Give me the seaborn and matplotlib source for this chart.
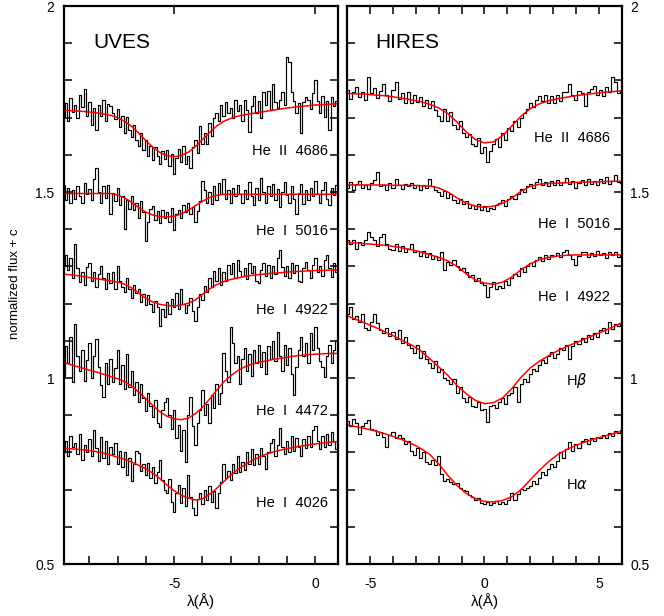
import numpy as np
import matplotlib
matplotlib.use("Agg")
import matplotlib.pyplot as plt
from matplotlib.ticker import MultipleLocator, FuncFormatter
import seaborn as sns

# wavelength grids, offsets from line centre in Angstrom
uves_start, uves_step, uves_model_step = -9.0, 1 / 12, 0.25
hires_start, hires_step, hires_model_step = -6.0, 0.4 / 3, 0.4

# ---------------- UVES (left panel) ----------------
uves_heii_4686_flux = [
    1.745, 1.702, 1.738, 1.690, 1.752, 1.715, 1.733, 1.698, 1.760, 1.728, 1.778, 1.705,
    1.742, 1.680, 1.725, 1.668, 1.735, 1.705, 1.748, 1.690, 1.736, 1.730, 1.712, 1.695,
    1.722, 1.676, 1.705, 1.660, 1.702, 1.668, 1.648, 1.680, 1.640, 1.625, 1.660, 1.612,
    1.640, 1.596, 1.625, 1.585, 1.622, 1.598, 1.575, 1.610, 1.590, 1.612, 1.570, 1.602,
    1.548, 1.592, 1.615, 1.580, 1.625, 1.575, 1.598, 1.565, 1.620, 1.640, 1.605, 1.678,
    1.628, 1.660, 1.630, 1.685, 1.650, 1.698, 1.712, 1.690, 1.735, 1.705, 1.742, 1.712,
    1.725, 1.700, 1.748, 1.718, 1.735, 1.690, 1.748, 1.720, 1.662, 1.730, 1.758, 1.712,
    1.745, 1.700, 1.768, 1.735, 1.772, 1.720, 1.790, 1.742, 1.725, 1.748, 1.770, 1.735,
    1.862, 1.850, 1.770, 1.745, 1.712, 1.738, 1.660, 1.742, 1.755, 1.748, 1.722, 1.765,
    1.800, 1.745, 1.712, 1.758, 1.702, 1.745, 1.668, 1.755, 1.730, 1.745, 1.722]
uves_heii_4686_model = [
    1.721, 1.719, 1.718, 1.717, 1.715, 1.713, 1.710, 1.706, 1.700, 1.690, 1.676, 1.658,
    1.638, 1.620, 1.606, 1.598, 1.595, 1.598, 1.607, 1.622, 1.641, 1.660, 1.677, 1.690,
    1.698, 1.704, 1.708, 1.711, 1.714, 1.717, 1.720, 1.723, 1.726, 1.728, 1.730, 1.732,
    1.734, 1.735, 1.736, 1.737, 1.738]

uves_hei_5016_flux = [
    1.558, 1.520, 1.478, 1.510, 1.470, 1.505, 1.482, 1.515, 1.490, 1.470, 1.525, 1.495,
    1.508, 1.478, 1.535, 1.565, 1.500, 1.470, 1.515, 1.485, 1.520, 1.442, 1.498, 1.476,
    1.510, 1.465, 1.488, 1.400, 1.478, 1.455, 1.490, 1.452, 1.470, 1.430, 1.475, 1.445,
    1.368, 1.420, 1.455, 1.462, 1.425, 1.448, 1.418, 1.452, 1.430, 1.445, 1.420, 1.458,
    1.398, 1.440, 1.452, 1.430, 1.465, 1.445, 1.470, 1.440, 1.460, 1.420, 1.450, 1.475,
    1.530, 1.505, 1.470, 1.500, 1.468, 1.515, 1.478, 1.525, 1.495, 1.535, 1.480, 1.505,
    1.470, 1.512, 1.488, 1.520, 1.495, 1.470, 1.505, 1.482, 1.528, 1.490, 1.465, 1.512,
    1.478, 1.538, 1.500, 1.470, 1.515, 1.488, 1.522, 1.478, 1.508, 1.460, 1.500, 1.528,
    1.492, 1.470, 1.515, 1.480, 1.442, 1.498, 1.522, 1.468, 1.505, 1.478, 1.512, 1.490,
    1.530, 1.495, 1.470, 1.505, 1.528, 1.482, 1.465, 1.510, 1.492, 1.520, 1.480]
uves_hei_5016_model = [
    1.496, 1.496, 1.496, 1.496, 1.496, 1.496, 1.496, 1.496, 1.492, 1.484, 1.472, 1.458,
    1.446, 1.438, 1.434, 1.433, 1.435, 1.441, 1.451, 1.463, 1.475, 1.485, 1.491, 1.494,
    1.494, 1.494, 1.494, 1.494, 1.494, 1.494, 1.494, 1.494, 1.494, 1.494, 1.494, 1.494,
    1.494, 1.494, 1.494, 1.494, 1.494]

uves_hei_4922_flux = [
    1.345, 1.300, 1.330, 1.290, 1.322, 1.268, 1.360, 1.295, 1.258, 1.285, 1.250, 1.298,
    1.310, 1.262, 1.285, 1.245, 1.280, 1.300, 1.268, 1.238, 1.282, 1.255, 1.285, 1.240,
    1.300, 1.262, 1.245, 1.232, 1.268, 1.240, 1.215, 1.250, 1.228, 1.240, 1.205, 1.225,
    1.195, 1.222, 1.200, 1.178, 1.208, 1.190, 1.140, 1.185, 1.165, 1.205, 1.172, 1.212,
    1.190, 1.228, 1.185, 1.238, 1.200, 1.175, 1.195, 1.215, 1.180, 1.152, 1.190, 1.225,
    1.210, 1.248, 1.230, 1.270, 1.245, 1.288, 1.262, 1.295, 1.250, 1.285, 1.262, 1.305,
    1.280, 1.310, 1.268, 1.318, 1.288, 1.275, 1.295, 1.265, 1.308, 1.282, 1.300, 1.262,
    1.255, 1.290, 1.310, 1.275, 1.305, 1.268, 1.300, 1.280, 1.322, 1.345, 1.298, 1.275,
    1.300, 1.268, 1.310, 1.282, 1.305, 1.262, 1.258, 1.295, 1.312, 1.290, 1.270, 1.305,
    1.322, 1.285, 1.300, 1.275, 1.318, 1.330, 1.295, 1.272, 1.310, 1.285, 1.300]
uves_hei_4922_model = [
    1.280, 1.278, 1.276, 1.273, 1.270, 1.267, 1.264, 1.261, 1.258, 1.252, 1.242, 1.228,
    1.214, 1.204, 1.198, 1.195, 1.194, 1.196, 1.201, 1.210, 1.225, 1.239, 1.251, 1.259,
    1.265, 1.269, 1.273, 1.276, 1.278, 1.280, 1.282, 1.283, 1.285, 1.286, 1.287, 1.288,
    1.289, 1.289, 1.290, 1.290, 1.290]

uves_hei_4472_flux = [
    1.120, 1.005, 1.085, 1.040, 1.110, 0.990, 1.145, 1.060, 1.020, 1.075, 0.992, 1.048,
    1.095, 1.000, 1.060, 1.105, 1.030, 0.980, 0.950, 1.040, 0.985, 1.050, 0.990, 1.028,
    1.075, 0.985, 1.035, 0.970, 1.065, 0.975, 1.020, 0.955, 0.990, 0.935, 0.985, 0.945,
    0.910, 0.960, 0.925, 0.895, 0.940, 0.880, 0.868, 0.915, 0.935, 0.945, 0.900, 0.862,
    0.915, 0.840, 0.875, 0.805, 0.860, 0.775, 0.900, 0.948, 0.870, 0.820, 0.880, 0.915,
    0.968, 0.900, 0.930, 0.880, 0.955, 0.920, 0.985, 0.930, 0.960, 1.068, 1.020, 0.990,
    1.138, 1.095, 1.040, 1.060, 0.985, 1.050, 1.080, 1.020, 1.065, 1.005, 1.075, 1.040,
    1.090, 1.030, 1.070, 1.010, 1.085, 1.050, 1.100, 1.045, 1.125, 1.060, 1.020, 1.090,
    1.035, 1.080, 1.010, 0.955, 1.030, 1.075, 1.110, 1.060, 1.095, 1.040, 1.120, 1.075,
    1.138, 1.080, 1.045, 1.030, 1.002, 1.060, 1.090, 1.040, 1.075, 1.100, 1.050]
uves_hei_4472_model = [
    1.044, 1.038, 1.032, 1.027, 1.021, 1.016, 1.010, 1.004, 0.998, 0.990, 0.978, 0.962,
    0.944, 0.926, 0.909, 0.897, 0.890, 0.888, 0.892, 0.904, 0.921, 0.943, 0.967, 0.989,
    1.006, 1.020, 1.030, 1.037, 1.042, 1.046, 1.050, 1.053, 1.056, 1.059, 1.061, 1.063,
    1.064, 1.065, 1.066, 1.066, 1.067]

uves_hei_4026_flux = [
    0.845, 0.800, 0.830, 0.790, 0.845, 0.815, 0.825, 0.795, 0.850, 0.780, 0.820, 0.800,
    0.835, 0.790, 0.860, 0.812, 0.778, 0.842, 0.785, 0.830, 0.770, 0.815, 0.795, 0.825,
    0.770, 0.805, 0.760, 0.800, 0.740, 0.785, 0.722, 0.770, 0.805, 0.798, 0.750, 0.770,
    0.738, 0.772, 0.730, 0.760, 0.718, 0.748, 0.780, 0.725, 0.700, 0.690, 0.728, 0.668,
    0.640, 0.690, 0.712, 0.665, 0.705, 0.655, 0.740, 0.680, 0.650, 0.632, 0.675, 0.690,
    0.660, 0.700, 0.672, 0.710, 0.668, 0.695, 0.650, 0.690, 0.720, 0.768, 0.730, 0.750,
    0.725, 0.770, 0.745, 0.790, 0.748, 0.775, 0.752, 0.800, 0.770, 0.810, 0.765, 0.795,
    0.770, 0.812, 0.790, 0.755, 0.800, 0.825, 0.835, 0.790, 0.820, 0.865, 0.815, 0.795,
    0.830, 0.800, 0.845, 0.805, 0.840, 0.815, 0.790, 0.835, 0.812, 0.845, 0.815, 0.860,
    0.870, 0.830, 0.810, 0.845, 0.815, 0.850, 0.820, 0.855, 0.830, 0.810, 0.845]
uves_hei_4026_model = [
    0.812, 0.810, 0.809, 0.807, 0.805, 0.802, 0.798, 0.793, 0.787, 0.781, 0.774, 0.765,
    0.756, 0.744, 0.729, 0.712, 0.697, 0.685, 0.677, 0.672, 0.675, 0.687, 0.703, 0.721,
    0.739, 0.754, 0.767, 0.778, 0.787, 0.795, 0.801, 0.806, 0.810, 0.814, 0.817, 0.820,
    0.823, 0.825, 0.827, 0.829, 0.830]

# ---------------- HIRES (right panel) ----------------
hires_heii_4686_flux = [
    1.775, 1.750, 1.768, 1.782, 1.755, 1.770, 1.748, 1.808, 1.765, 1.780, 1.752, 1.772,
    1.790, 1.760, 1.745, 1.775, 1.795, 1.750, 1.765, 1.740, 1.770, 1.738, 1.760, 1.742,
    1.755, 1.730, 1.748, 1.725, 1.745, 1.720, 1.705, 1.690, 1.722, 1.690, 1.715, 1.680,
    1.670, 1.690, 1.660, 1.648, 1.655, 1.630, 1.625, 1.645, 1.605, 1.620, 1.582, 1.610,
    1.628, 1.642, 1.620, 1.660, 1.640, 1.672, 1.665, 1.690, 1.675, 1.698, 1.712, 1.722,
    1.740, 1.728, 1.748, 1.758, 1.745, 1.762, 1.740, 1.758, 1.738, 1.762, 1.745, 1.768,
    1.770, 1.790, 1.760, 1.748, 1.772, 1.765, 1.732, 1.768, 1.778, 1.785, 1.760, 1.775,
    1.758, 1.782, 1.770, 1.808, 1.795, 1.765, 1.775]
hires_heii_4686_model = [
    1.765, 1.764, 1.763, 1.761, 1.759, 1.756, 1.752, 1.748, 1.743, 1.736, 1.726, 1.711,
    1.688, 1.662, 1.641, 1.632, 1.635, 1.652, 1.678, 1.704, 1.724, 1.737, 1.745, 1.751,
    1.755, 1.759, 1.762, 1.765, 1.768, 1.770, 1.772]

hires_hei_5016_flux = [
    1.512, 1.528, 1.505, 1.522, 1.530, 1.510, 1.518, 1.508, 1.525, 1.532, 1.555, 1.515,
    1.520, 1.505, 1.525, 1.512, 1.535, 1.520, 1.508, 1.522, 1.515, 1.525, 1.510, 1.518,
    1.505, 1.520, 1.512, 1.535, 1.515, 1.505, 1.500, 1.490, 1.502, 1.485, 1.495, 1.478,
    1.470, 1.480, 1.468, 1.475, 1.458, 1.465, 1.455, 1.468, 1.452, 1.462, 1.450, 1.458,
    1.455, 1.465, 1.470, 1.478, 1.462, 1.480, 1.490, 1.480, 1.495, 1.508, 1.500, 1.515,
    1.522, 1.512, 1.528, 1.535, 1.518, 1.528, 1.515, 1.530, 1.520, 1.532, 1.518, 1.528,
    1.538, 1.522, 1.530, 1.510, 1.525, 1.532, 1.520, 1.535, 1.522, 1.530, 1.518, 1.535,
    1.525, 1.540, 1.522, 1.530, 1.545, 1.528, 1.525]
hires_hei_5016_model = [
    1.519, 1.519, 1.519, 1.519, 1.519, 1.518, 1.518, 1.518, 1.517, 1.516, 1.511, 1.500,
    1.484, 1.470, 1.462, 1.459, 1.462, 1.470, 1.484, 1.502, 1.515, 1.521, 1.523, 1.524,
    1.525, 1.526, 1.527, 1.527, 1.528, 1.529, 1.529]

hires_hei_4922_flux = [
    1.370, 1.360, 1.372, 1.348, 1.365, 1.358, 1.372, 1.392, 1.378, 1.370, 1.355, 1.380,
    1.388, 1.360, 1.348, 1.345, 1.360, 1.342, 1.355, 1.340, 1.348, 1.360, 1.338, 1.342,
    1.328, 1.342, 1.325, 1.335, 1.320, 1.328, 1.318, 1.338, 1.290, 1.312, 1.305, 1.318,
    1.302, 1.290, 1.296, 1.285, 1.272, 1.278, 1.260, 1.270, 1.255, 1.250, 1.218, 1.245,
    1.258, 1.240, 1.248, 1.242, 1.262, 1.250, 1.270, 1.280, 1.275, 1.295, 1.285, 1.300,
    1.310, 1.302, 1.318, 1.325, 1.315, 1.330, 1.320, 1.332, 1.328, 1.335, 1.325, 1.340,
    1.345, 1.332, 1.320, 1.305, 1.328, 1.338, 1.340, 1.325, 1.335, 1.328, 1.342, 1.330,
    1.335, 1.322, 1.338, 1.330, 1.340, 1.325, 1.332]
hires_hei_4922_model = [
    1.364, 1.363, 1.361, 1.359, 1.357, 1.354, 1.350, 1.345, 1.339, 1.332, 1.324, 1.315,
    1.300, 1.280, 1.264, 1.255, 1.252, 1.258, 1.272, 1.291, 1.307, 1.318, 1.324, 1.328,
    1.330, 1.331, 1.331, 1.331, 1.331, 1.331, 1.331]

hires_hbeta_flux = [
    1.172, 1.190, 1.160, 1.168, 1.150, 1.172, 1.135, 1.128, 1.150, 1.172, 1.148, 1.130,
    1.120, 1.135, 1.112, 1.125, 1.105, 1.130, 1.095, 1.110, 1.088, 1.080, 1.068, 1.090,
    1.055, 1.072, 1.050, 1.040, 1.028, 1.045, 1.015, 1.025, 1.000, 0.995, 0.985, 0.998,
    0.960, 0.975, 0.945, 0.935, 0.950, 0.925, 0.922, 0.935, 0.915, 0.918, 0.882, 0.925,
    0.928, 0.920, 0.935, 0.945, 0.930, 0.955, 0.960, 0.975, 0.935, 0.985, 0.998, 0.990,
    1.010, 1.025, 1.018, 1.035, 1.048, 1.040, 1.058, 1.070, 1.055, 1.065, 1.080, 1.075,
    1.090, 1.052, 1.085, 1.100, 1.092, 1.108, 1.098, 1.115, 1.105, 1.122, 1.110, 1.128,
    1.135, 1.120, 1.150, 1.132, 1.145, 1.140, 1.148]
hires_hbeta_model = [
    1.167, 1.157, 1.147, 1.137, 1.126, 1.114, 1.101, 1.089, 1.074, 1.052, 1.030, 1.007,
    0.980, 0.958, 0.940, 0.931, 0.934, 0.947, 0.972, 1.002, 1.027, 1.045, 1.060, 1.073,
    1.085, 1.095, 1.105, 1.116, 1.126, 1.137, 1.148]

hires_halpha_flux = [
    0.885, 0.872, 0.890, 0.878, 0.850, 0.872, 0.880, 0.888, 0.862, 0.860, 0.848, 0.855,
    0.842, 0.815, 0.848, 0.855, 0.838, 0.848, 0.840, 0.822, 0.830, 0.805, 0.792, 0.812,
    0.785, 0.800, 0.775, 0.768, 0.780, 0.765, 0.790, 0.742, 0.722, 0.728, 0.720, 0.715,
    0.718, 0.705, 0.700, 0.695, 0.685, 0.680, 0.672, 0.678, 0.665, 0.662, 0.668, 0.658,
    0.665, 0.670, 0.662, 0.668, 0.662, 0.672, 0.690, 0.672, 0.688, 0.702, 0.700, 0.705,
    0.710, 0.722, 0.715, 0.730, 0.748, 0.738, 0.755, 0.768, 0.762, 0.778, 0.800, 0.785,
    0.810, 0.828, 0.805, 0.822, 0.812, 0.830, 0.835, 0.822, 0.838, 0.830, 0.842, 0.838,
    0.848, 0.838, 0.852, 0.845, 0.858, 0.852, 0.860]
hires_halpha_model = [
    0.874, 0.869, 0.864, 0.858, 0.851, 0.843, 0.834, 0.824, 0.811, 0.795, 0.769, 0.738,
    0.711, 0.690, 0.676, 0.668, 0.667, 0.671, 0.681, 0.700, 0.726, 0.752, 0.775, 0.794,
    0.808, 0.819, 0.828, 0.836, 0.843, 0.850, 0.857]

uves_labels = ["He  II  4686", "He  I  5016", "He  I  4922", "He  I  4472", "He  I  4026"]
hires_labels = ["He  II  4686", "He  I  5016", "He  I  4922", r"H$\beta$", r"H$\alpha$"]

uves_sets = [(uves_heii_4686_flux, uves_heii_4686_model),
             (uves_hei_5016_flux, uves_hei_5016_model),
             (uves_hei_4922_flux, uves_hei_4922_model),
             (uves_hei_4472_flux, uves_hei_4472_model),
             (uves_hei_4026_flux, uves_hei_4026_model)]
hires_sets = [(hires_heii_4686_flux, hires_heii_4686_model),
              (hires_hei_5016_flux, hires_hei_5016_model),
              (hires_hei_4922_flux, hires_hei_4922_model),
              (hires_hbeta_flux, hires_hbeta_model),
              (hires_halpha_flux, hires_halpha_model)]

# label placement in axes fraction
uves_label_pos = [(0.963, 0.740), (0.963, 0.596), (0.963, 0.455), (0.963, 0.274), (0.963, 0.109)]
hires_label_pos = [(0.957, 0.763), (0.957, 0.609), (0.957, 0.478), (0.797, 0.328), (0.797, 0.142)]
hires_label_ha = ["right", "right", "right", "left", "left"]

sns.set_theme(style="ticks")
plt.rcParams["font.family"] = ["Liberation Sans", "DejaVu Sans"]
plt.rcParams["axes.unicode_minus"] = False
plt.rcParams["mathtext.fontset"] = "dejavusans"
plt.rcParams["text.color"] = "black"
plt.rcParams["axes.labelcolor"] = "black"

fig = plt.figure(figsize=(6.64, 6.16), dpi=100)
ax_u = fig.add_axes([0.0964, 0.0844, 0.4127, 0.9058])
ax_h = fig.add_axes([0.523, 0.0844, 0.4133, 0.9058])


def draw_panel(ax, sets, start, step, mstep):
    for flux, model in sets:
        x = start + step * np.arange(len(flux))
        sns.lineplot(x=x, y=flux, ax=ax, color="black", lw=0.85,
                     drawstyle="steps-mid", estimator=None, sort=False)
        xm = start + mstep * np.arange(len(model))
        sns.lineplot(x=xm, y=model, ax=ax, color="red", lw=1.1,
                     estimator=None, sort=False)


draw_panel(ax_u, uves_sets, uves_start, uves_step, uves_model_step)
draw_panel(ax_h, hires_sets, hires_start, hires_step, hires_model_step)

fmt = FuncFormatter(lambda v, p: "%g" % v)
for ax in (ax_u, ax_h):
    ax.set_ylim(0.5, 2.0)
    ax.yaxis.set_major_locator(MultipleLocator(0.5))
    ax.yaxis.set_minor_locator(MultipleLocator(0.1))
    ax.xaxis.set_major_locator(MultipleLocator(5))
    ax.xaxis.set_minor_locator(MultipleLocator(1))
    ax.yaxis.set_major_formatter(fmt)
    ax.xaxis.set_major_formatter(fmt)
    ax.tick_params(which="both", direction="in", top=True, right=True,
                   length=6, width=1.1, labelsize=10, colors="black")
    ax.tick_params(axis="x", pad=9)
    for s in ax.spines.values():
        s.set_linewidth(1.6)
        s.set_color("black")
    ax.set_ylabel("")
    ax.set_xlabel("λ(Å)", fontsize=11)
    ax.xaxis.set_label_coords(0.5, -0.052)

ax_u.set_xlim(-8.9, 0.8)
ax_u.tick_params(axis="x", which="minor", top=False)
ax_u.tick_params(axis="y", pad=7)
ax_h.set_xlim(-6, 6)
ax_h.tick_params(axis="y", labelleft=False, labelright=True, pad=6)

ax_u.text(0.106, 0.934, "UVES", transform=ax_u.transAxes, fontsize=15,
          ha="left", va="center")
ax_h.text(0.101, 0.934, "HIRES", transform=ax_h.transAxes, fontsize=15,
          ha="left", va="center")

for lab, (px, py) in zip(uves_labels, uves_label_pos):
    ax_u.text(px, py, lab, transform=ax_u.transAxes, fontsize=10.5,
              ha="right", va="center")
for lab, (px, py), ha in zip(hires_labels, hires_label_pos, hires_label_ha):
    ax_h.text(px, py, lab, transform=ax_h.transAxes, fontsize=10.5,
              ha=ha, va="center")

fig.text(0.0226, 0.539, "normalized flux + c", rotation=90, fontsize=9.5,
         ha="center", va="center")

fig.savefig("out.png", dpi=100)
